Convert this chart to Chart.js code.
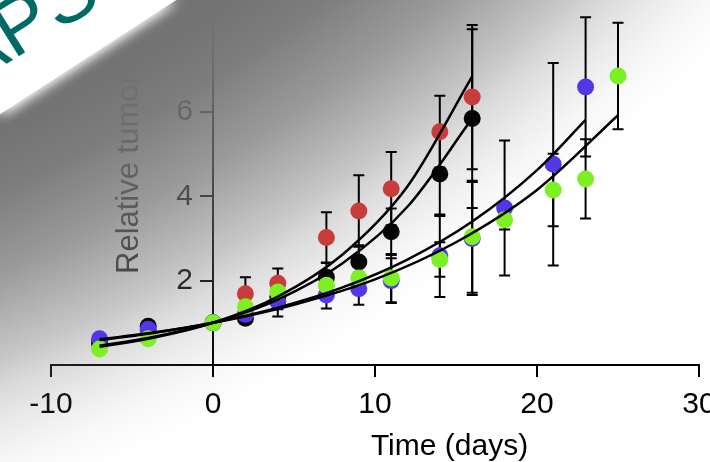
<!DOCTYPE html>
<html>
<head>
<meta charset="UTF-8">
<title>Relative tumor volume</title>
<script src="https://cdn.jsdelivr.net/npm/chart.js@4.4.0/dist/chart.umd.min.js"></script>
<style>
  * { margin: 0; padding: 0; }
  html, body { width: 710px; height: 462px; overflow: hidden; background: #fff; }
  canvas { display: block; }
</style>
</head>
<body>
<canvas id="c" width="710" height="462"></canvas>
<script>
const FONT = "'Liberation Sans', Arial, sans-serif";

// measurement days
const daysRB = [-7, -4, 0, 2, 4, 7, 9, 11, 14, 16];
const daysBlue = [-7, -4, 0, 2, 4, 7, 9, 11, 14, 16, 18, 21, 23];
const daysGreen = [-7, -4, 0, 2, 4, 7, 9, 11, 14, 16, 18, 21, 23, 25];

// mean relative volume and error
const redMean = [0.58, 0.82, 1.0, 1.69, 1.94, 3.02, 3.65, 4.18, 5.53, 6.35];
const redErr = [0.05, 0.08, 0, 0.39, 0.35, 0.60, 0.85, 0.87, 0.85, 1.71];
const blackMean = [0.50, 0.92, 1.0, 1.11, 1.62, 2.08, 2.44, 3.16, 4.53, 5.84];
const blackErr = [0.05, 0.08, 0, 0.12, 0.30, 0.35, 0.40, 0.55, 1.00, 2.12];
const blueMean = [0.62, 0.85, 1.0, 1.20, 1.50, 1.66, 1.81, 2.00, 2.59, 3.00, 3.72, 4.76, 6.59];
const blueErr = [0.05, 0.06, 0, 0.10, 0.35, 0.32, 0.38, 0.53, 0.98, 1.34, 1.60, 2.40, 1.65];
const greenMean = [0.38, 0.62, 1.0, 1.38, 1.73, 1.89, 2.06, 2.06, 2.50, 3.04, 3.44, 4.15, 4.41, 6.85];
const greenErr = [0.05, 0.06, 0, 0.10, 0.20, 0.25, 0.30, 0.57, 0.41, 1.33, 0.23, 0.86, 0.94, 1.26];

// fitted growth curves, sampled from the figure
const redFitX = [-7, -4, 0, 4, 8, 12, 16];
const redFitY = [0.43, 0.62, 1.0, 1.62, 2.62, 4.23, 6.84];
const blackFitX = [-7, -4, 0, 4, 8, 12, 16];
const blackFitY = [0.46, 0.64, 1.0, 1.55, 2.41, 3.75, 5.84];
const blueFitX = [-7, -4, 0, 4, 8, 12, 16, 20, 23];
const blueFitY = [0.59, 0.74, 1.0, 1.36, 1.84, 2.50, 3.40, 4.62, 5.81];
const greenFitX = [-7, -4, 0, 5, 10, 15, 20, 25];
const greenFitY = [0.61, 0.75, 1.0, 1.43, 2.03, 2.91, 4.15, 5.92];

const xTicks = [-10, 0, 10, 20, 30];
const yTicks = [2, 4, 6];

const pts = (xs, ys) => xs.map((x, i) => ({ x, y: ys[i] }));

// higher order = drawn underneath
const groups = [
  { color: '#c83c3c', days: daysRB, mean: redMean, err: redErr, order: 4 },
  { color: '#050505', days: daysRB, mean: blackMean, err: blackErr, order: 3 },
  { color: '#5535e8', days: daysBlue, mean: blueMean, err: blueErr, order: 2 },
  { color: '#7df024', days: daysGreen, mean: greenMean, err: greenErr, order: 1 },
];
const fits = [[redFitX, redFitY], [blackFitX, blackFitY], [blueFitX, blueFitY], [greenFitX, greenFitY]];

const datasets = [
  ...groups.map(g => ({
    data: pts(g.days, g.mean),
    pointRadius: 8.5,
    pointBackgroundColor: g.color,
    pointBorderWidth: 0,
    showLine: false,
    order: g.order,
  })),
  ...fits.map(([xs, ys]) => ({
    data: pts(xs, ys),
    showLine: true,
    pointRadius: 0,
    borderColor: '#000',
    borderWidth: 2.5,
    cubicInterpolationMode: 'monotone',
    fill: false,
    order: 0,
  })),
];

// axis titles + y tick labels (y axis sits at x = 0, so labels are placed by hand)
function drawTexts(chart) {
  const { ctx, chartArea, scales: { x, y } } = chart;
  ctx.save();
  ctx.fillStyle = '#000';
  ctx.font = `30px ${FONT}`;
  ctx.textAlign = 'right';
  ctx.textBaseline = 'middle';
  const ax = x.getPixelForValue(0);
  yTicks.forEach(v => ctx.fillText(String(v), ax - 12 - 8, y.getPixelForValue(v)));
  ctx.textAlign = 'center';
  ctx.textBaseline = 'alphabetic';
  ctx.fillText('Time (days)', chartArea.left + 0.615 * (chartArea.right - chartArea.left), 455);
  ctx.translate(138, 274);
  ctx.rotate(-Math.PI / 2);
  ctx.textAlign = 'left';
  ctx.font = `31px ${FONT}`;
  ctx.fillStyle = '#1a1a1a';
  ctx.fillText('Relative tumor volume', 0, 0);
  ctx.restore();
}

// grey shading coming in from the top left corner
function drawShade(chart) {
  const { ctx, width, height } = chart;
  const g = ctx.createRadialGradient(-680, -1330, 0, -680, -1330, 1960);
  const c = a => `rgba(115,115,115,${a})`;
  g.addColorStop(0, c(1));
  g.addColorStop(0.823, c(1));
  g.addColorStop(0.85, c(0.93));
  g.addColorStop(0.888, c(0.72));
  g.addColorStop(0.906, c(0.58));
  g.addColorStop(0.929, c(0.4));
  g.addColorStop(0.944, c(0.26));
  g.addColorStop(0.962, c(0.14));
  g.addColorStop(0.98, c(0.05));
  g.addColorStop(1, c(0));
  ctx.save();
  ctx.fillStyle = g;
  ctx.fillRect(0, 0, width, height);
  ctx.restore();
}

function drawErrorBars(chart) {
  const { ctx, scales: { x, y } } = chart;
  ctx.save();
  ctx.strokeStyle = '#000';
  ctx.lineWidth = 2;
  groups.forEach(g => g.days.forEach((d, i) => {
    const e = g.err[i];
    if (!e) return;
    const px = x.getPixelForValue(d);
    const top = y.getPixelForValue(g.mean[i] + e);
    const bot = y.getPixelForValue(g.mean[i] - e);
    ctx.beginPath();
    ctx.moveTo(px, top); ctx.lineTo(px, bot);
    ctx.moveTo(px - 5.5, top); ctx.lineTo(px + 5.5, top);
    ctx.moveTo(px - 5.5, bot); ctx.lineTo(px + 5.5, bot);
    ctx.stroke();
  }));
  ctx.restore();
}

function drawBanner(chart) {
  const { ctx } = chart;
  ctx.save();
  ctx.beginPath();
  ctx.moveTo(0, 0); ctx.lineTo(176, 0); ctx.lineTo(0, 114); ctx.closePath();
  ctx.shadowColor = '#fff';
  ctx.shadowBlur = 14;
  ctx.fillStyle = '#fff';
  ctx.fill();
  ctx.fill();
  ctx.shadowBlur = 0;
  ctx.clip();
  ctx.translate(-32, 88);
  ctx.rotate(-32 * Math.PI / 180);
  ctx.textAlign = 'left';
  ctx.textBaseline = 'alphabetic';
  ctx.font = `80px ${FONT}`;
  ctx.fillStyle = '#006b66';
  ctx.fillText('APS', 0, 0);
  ctx.restore();
}

const decor = {
  id: 'decor',
  beforeDraw(chart) {
    const { ctx, width, height } = chart;
    ctx.save();
    ctx.fillStyle = '#fff';
    ctx.fillRect(0, 0, width, height);
    ctx.restore();
  },
  beforeDatasetsDraw(chart) {
    drawTexts(chart);
    drawShade(chart);
    drawErrorBars(chart);
  },
  afterDraw(chart) {
    drawBanner(chart);
  }
};

const axisLine = () => ({ drawOnChartArea: false, tickLength: 12, lineWidth: 2, color: '#000' });

new Chart(document.getElementById('c'), {
  type: 'scatter',
  data: { datasets },
  options: {
    responsive: false,
    animation: false,
    events: [],
    layout: { padding: { left: 51, right: 11, top: 0, bottom: 29 } },
    plugins: { legend: { display: false }, tooltip: { enabled: false } },
    scales: {
      x: {
        type: 'linear',
        min: xTicks[0],
        max: xTicks[xTicks.length - 1],
        afterBuildTicks: s => { s.ticks = xTicks.map(v => ({ value: v })); },
        ticks: { font: { family: FONT, size: 30 }, color: '#000', padding: 10, maxRotation: 0, autoSkip: false },
        grid: axisLine(),
        border: { color: '#000', width: 2 },
        afterFit: s => { s.paddingLeft = 0; s.paddingRight = 0; },
      },
      y: {
        type: 'linear',
        position: { x: 0 },
        min: 0,
        max: 8.45,
        afterBuildTicks: s => { s.ticks = yTicks.map(v => ({ value: v })); },
        ticks: { display: false },
        grid: axisLine(),
        border: { color: '#000', width: 2 },
        afterFit: s => { s.paddingTop = 0; s.paddingBottom = 0; },
      },
    },
  },
  plugins: [decor],
});
</script>
</body>
</html>
